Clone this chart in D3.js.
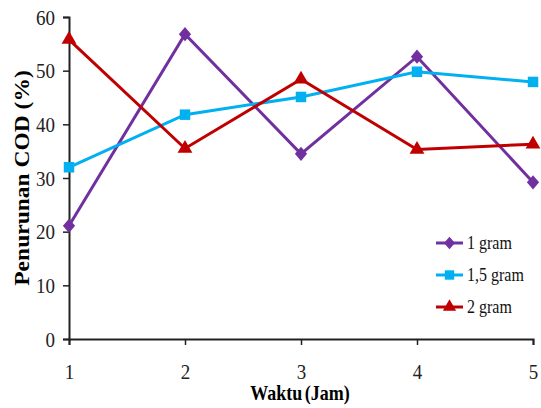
<!DOCTYPE html>
<html>
<head>
<meta charset="utf-8">
<script src="https://cdn.jsdelivr.net/npm/d3@7"></script>
<style>
  body { margin: 0; background: #fff; }
</style>
</head>
<body>
<div id="chart"></div>
<script>
const hours = [1, 2, 3, 4, 5];
const yTicks = [0, 10, 20, 30, 40, 50, 60];
const seriesNames = ['1 gram', '1,5 gram', '2 gram'];
const gram1 = [21.1, 56.8, 34.5, 52.6, 29.2];
const gram15 = [32.0, 41.8, 45.1, 49.8, 47.9];
const gram2 = [55.8, 35.5, 48.4, 35.3, 36.3];

const colors = ['#7030a0', '#00b0f0', '#c00000'];
// wider diamond than d3's default, closer to the spreadsheet marker
const wideDiamond = {
  draw(context, size) {
    const h = Math.sqrt(size) * 0.75, w = h * 0.86;
    context.moveTo(0, -h);
    context.lineTo(w, 0);
    context.lineTo(0, h);
    context.lineTo(-w, 0);
    context.closePath();
  }
};
const symbols = [wideDiamond, d3.symbolSquare, d3.symbolTriangle];
const symSizes = [90, 110, 95];
const serif = '"Liberation Serif"';

const outerWidth = 541, outerHeight = 408;
const margin = {top: 17, right: 8, bottom: 69, left: 69};
const width = outerWidth - margin.left - margin.right;
const height = outerHeight - margin.top - margin.bottom;

const svg = d3.select('#chart').append('svg')
  .attr('width', outerWidth)
  .attr('height', outerHeight)
  .append('g')
  .attr('transform', `translate(${margin.left}, ${margin.top})`);

const x = d3.scaleLinear().domain([1, 5]).range([0, width]);
const y = d3.scaleLinear().domain([0, 60]).range([height, 0]);

// axes
const gx = svg.append('g')
  .attr('transform', `translate(0, ${height})`)
  .call(d3.axisBottom(x).tickValues(hours).tickFormat(d3.format('d')).tickSize(6));
const gy = svg.append('g')
  .call(d3.axisLeft(y).tickValues(yTicks).tickSize(6));

[gx, gy].forEach(g => {
  g.attr('font-family', 'Liberation Serif').attr('font-size', 19);
  g.select('.domain').attr('stroke', '#222').attr('stroke-width', 2);
  g.selectAll('.tick line').attr('stroke', '#222').attr('stroke-width', 1.5);
});

// tick labels, a little taller than wide like the original
gx.selectAll('.tick text')
  .attr('y', null).attr('dy', null)
  .attr('transform', 'translate(0, 40) scale(1, 1.12)')
  .attr('fill', '#222');
gy.selectAll('.tick text')
  .attr('x', null).attr('dy', null)
  .attr('transform', 'translate(-14, 7) scale(1, 1.12)')
  .attr('fill', '#222');

// axis labels
svg.append('text')
  .attr('transform', `translate(-40, ${height / 2}) rotate(-90) scale(1.12, 1)`)
  .attr('text-anchor', 'middle')
  .style('font-family', serif)
  .style('font-size', '21px')
  .style('font-weight', 'bold')
  .text('Penurunan COD (%)');

svg.append('text')
  .attr('transform', `translate(${width / 2 - 1}, ${height + 61}) scale(1, 1.12)`)
  .attr('text-anchor', 'middle')
  .style('font-family', serif)
  .style('font-size', '18px')
  .style('font-weight', 'bold')
  .style('word-spacing', '-2px')
  .text('Waktu (Jam)');

// series
const allSeries = [gram1, gram15, gram2];
const line = d3.line().x((d, i) => x(hours[i])).y(d => y(d));

allSeries.forEach((vals, s) => {
  svg.append('path')
    .datum(vals)
    .attr('fill', 'none')
    .attr('stroke', colors[s])
    .attr('stroke-width', 3)
    .attr('d', line);

  svg.selectAll(null)
    .data(vals)
    .enter().append('path')
    .attr('transform', (d, i) => `translate(${x(hours[i])}, ${y(d)})`)
    .attr('d', d3.symbol().type(symbols[s]).size(symSizes[s]))
    .attr('fill', colors[s]);
});

// legend
const legend = svg.append('g')
  .attr('transform', `translate(${436 - margin.left}, ${243 - margin.top})`);

seriesNames.forEach((name, s) => {
  const row = legend.append('g').attr('transform', `translate(0, ${s * 32})`);
  row.append('line')
    .attr('x1', 0).attr('x2', 27)
    .attr('stroke', colors[s]).attr('stroke-width', 3);
  row.append('path')
    .attr('transform', 'translate(13.5, 0)')
    .attr('d', d3.symbol().type(symbols[s]).size(symSizes[s] * 0.8))
    .attr('fill', colors[s]);
  row.append('text')
    .attr('transform', 'translate(31, 6) scale(1, 1.12)')
    .attr('fill', '#111')
    .style('font-family', serif)
    .style('font-size', '16px')
    .text(name);
});
</script>
</body>
</html>
